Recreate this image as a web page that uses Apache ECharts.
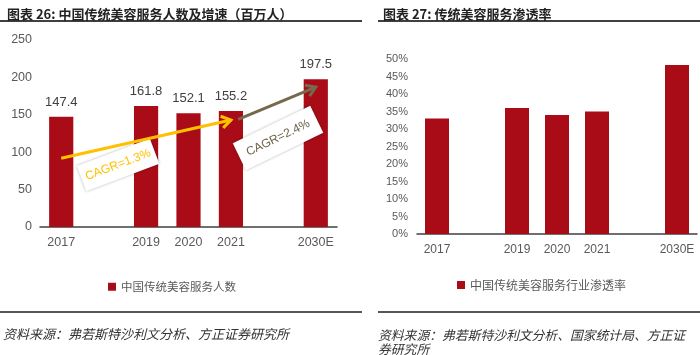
<!DOCTYPE html>
<html><head><meta charset="utf-8">
<script src="https://cdn.jsdelivr.net/npm/echarts/dist/echarts.min.js"></script>
<style>html,body{margin:0;padding:0;background:#fff}#c{width:700px;height:355px}</style>
</head><body><div id="c"></div>
<script>
// ---- data ----
const categories = ['2017', '', '2019', '2020', '2021', ' ', '2030E'];
const peopleValues = [147.4, null, 161.8, 152.1, 155.2, null, 197.5];
const penetrationValues = [0.33, null, 0.36, 0.34, 0.35, null, 0.483];
const leftTitle = '图表 26: 中国传统美容服务人数及增速（百万人）';
const rightTitle = '图表 27: 传统美容服务渗透率';
const leftSeriesName = '中国传统美容服务人数';
const rightSeriesName = '中国传统美容服务行业渗透率';
const leftSource = '资料来源：弗若斯特沙利文分析、方正证券研究所';
const rightSource = '资料来源：弗若斯特沙利文分析、国家统计局、方正证\n券研究所';
const cagrLabels = ['CAGR=1.3%', 'CAGR=2.4%'];
// arrow endpoints in data space (category index, value)
const cagrFrom = [[0, 92], [4.17, 144]];
const cagrTo = [[4.0, 143], [6.15, 187]];
const cagrLabelAt = [[1.34, 83], [5.11, 119]];

const RED = '#A90C17';
const CJK = '"Noto Sans CJK SC", sans-serif';
const LAT = '"Liberation Sans", Arial, sans-serif';

const chart = echarts.init(document.getElementById('c'), null, {renderer: 'canvas'});
const axisX = (grid) => ({
  type: 'category', gridIndex: grid, data: categories,
  axisTick: {show: false},
  axisLine: {lineStyle: {color: '#404040', width: 1.5}},
  axisLabel: {color: '#595959', fontFamily: LAT, fontSize: grid ? 12 : 12.5, margin: grid ? 10 : 9, interval: 0}
});
chart.setOption({
  animation: false,
  title: [
    {text: leftTitle, left: 2, top: 3, textStyle: {fontFamily: CJK, fontSize: 13, fontWeight: 'bold', color: '#222'}},
    {text: rightTitle, left: 378, top: 3, textStyle: {fontFamily: CJK, fontSize: 13, fontWeight: 'bold', color: '#222'}}
  ],
  legend: [
    {data: [leftSeriesName], left: 103, top: 276, itemWidth: 8, itemHeight: 8, icon: 'rect', itemGap: 4,
     textStyle: {fontFamily: CJK, fontSize: 11.5, color: '#595959'}},
    {data: [rightSeriesName], left: 452, top: 274, itemWidth: 8, itemHeight: 8, icon: 'rect',
     textStyle: {fontFamily: CJK, fontSize: 12, color: '#595959'}}
  ],
  grid: [
    {left: 40, right: 363, top: 40, bottom: 128},
    {left: 417, right: 3, top: 59, bottom: 121}
  ],
  xAxis: [axisX(0), axisX(1)],
  yAxis: [
    {type: 'value', gridIndex: 0, min: 0, max: 250, interval: 50, splitLine: {show: false},
     axisLine: {show: false}, axisTick: {show: false},
     axisLabel: {color: '#595959', fontFamily: LAT, fontSize: 12.5, margin: 8}},
    {type: 'value', gridIndex: 1, min: 0, max: 0.5, interval: 0.05, splitLine: {show: false},
     axisLine: {show: false}, axisTick: {show: false},
     axisLabel: {color: '#595959', fontFamily: LAT, fontSize: 11, margin: 9,
       formatter: v => Math.round(v * 100) + '%'}}
  ],
  series: [
    {name: leftSeriesName, type: 'bar', xAxisIndex: 0, yAxisIndex: 0, data: peopleValues,
     barWidth: '57%', itemStyle: {color: RED},
     label: {show: true, position: 'top', distance: 8, color: '#404040', fontFamily: LAT, fontSize: 13,
       formatter: p => p.value.toFixed(1)}},
    {name: rightSeriesName, type: 'bar', xAxisIndex: 1, yAxisIndex: 1, data: penetrationValues,
     barWidth: '60%', itemStyle: {color: RED}}
  ]
});

// fractional category positions: interpolate between neighbouring category centres
function px(p) {
  const i0 = Math.floor(p[0]), i1 = Math.min(i0 + 1, categories.length - 1), f = p[0] - i0;
  const a = chart.convertToPixel({xAxisIndex: 0, yAxisIndex: 0}, [i0, p[1]]);
  const b = chart.convertToPixel({xAxisIndex: 0, yAxisIndex: 0}, [i1, p[1]]);
  return [a[0] + (b[0] - a[0]) * f, a[1]];
}
function arrow(a, b, color) {
  const ang = Math.atan2(b[1] - a[1], b[0] - a[0]);
  const L = 11, s = Math.PI / 5.5;
  const w1 = [b[0] - L * Math.cos(ang - s), b[1] - L * Math.sin(ang - s)];
  const w2 = [b[0] - L * Math.cos(ang + s), b[1] - L * Math.sin(ang + s)];
  return [
    {type: 'line', z: 120, shape: {x1: a[0], y1: a[1], x2: b[0], y2: b[1]}, style: {stroke: color, lineWidth: 3}},
    {type: 'polyline', z: 120, shape: {points: [w1, b, w2]}, style: {stroke: color, lineWidth: 3, fill: null, lineJoin: 'miter'}}
  ];
}
function box(center, w, h, rot, text, color) {
  return [
    {type: 'rect', z: 110, x: center[0], y: center[1], rotation: rot,
     shape: {x: -w / 2, y: -h / 2, width: w, height: h},
     style: {fill: '#fff', shadowBlur: 3, shadowColor: 'rgba(0,0,0,0.3)'}},
    {type: 'text', z: 115, x: center[0], y: center[1], rotation: rot,
     style: {text: text, fill: color, fontFamily: '"Liberation Sans Narrow", "Liberation Sans", sans-serif',
       fontSize: 12, align: 'center', verticalAlign: 'middle'}}
  ];
}
const yA = px(cagrFrom[0]), yB = px(cagrTo[0]);
const bA = px(cagrFrom[1]), bB = px(cagrTo[1]);
const yC = px(cagrLabelAt[0]), bC = px(cagrLabelAt[1]);
const lines = [
  {type: 'rect', shape: {x: 0, y: 20, width: 362, height: 2}, style: {fill: '#404040'}},
  {type: 'rect', shape: {x: 378, y: 20, width: 322, height: 2}, style: {fill: '#404040'}},
  {type: 'rect', shape: {x: 0, y: 311, width: 362, height: 2}, style: {fill: '#555'}},
  {type: 'rect', shape: {x: 378, y: 311, width: 322, height: 2}, style: {fill: '#555'}},
  {type: 'text', x: 3, y: 328, style: {text: leftSource, fontFamily: CJK, fontStyle: 'italic', fontSize: 13, fill: '#333'}},
  {type: 'text', x: 378, y: 328, style: {text: rightSource, fontFamily: CJK, fontStyle: 'italic', fontSize: 12.8, lineHeight: 14, fill: '#333'}}
];
chart.setOption({
  graphic: [].concat(
    lines,
    box(yC, 78, 27, 0.36, cagrLabels[0], '#FFC000'),
    box(bC, 86, 30, 0.45, cagrLabels[1], '#6E6249'),
    arrow(yA, yB, '#FFC000'),
    arrow(bA, bB, '#766A4E')
  )
});
</script></body></html>
